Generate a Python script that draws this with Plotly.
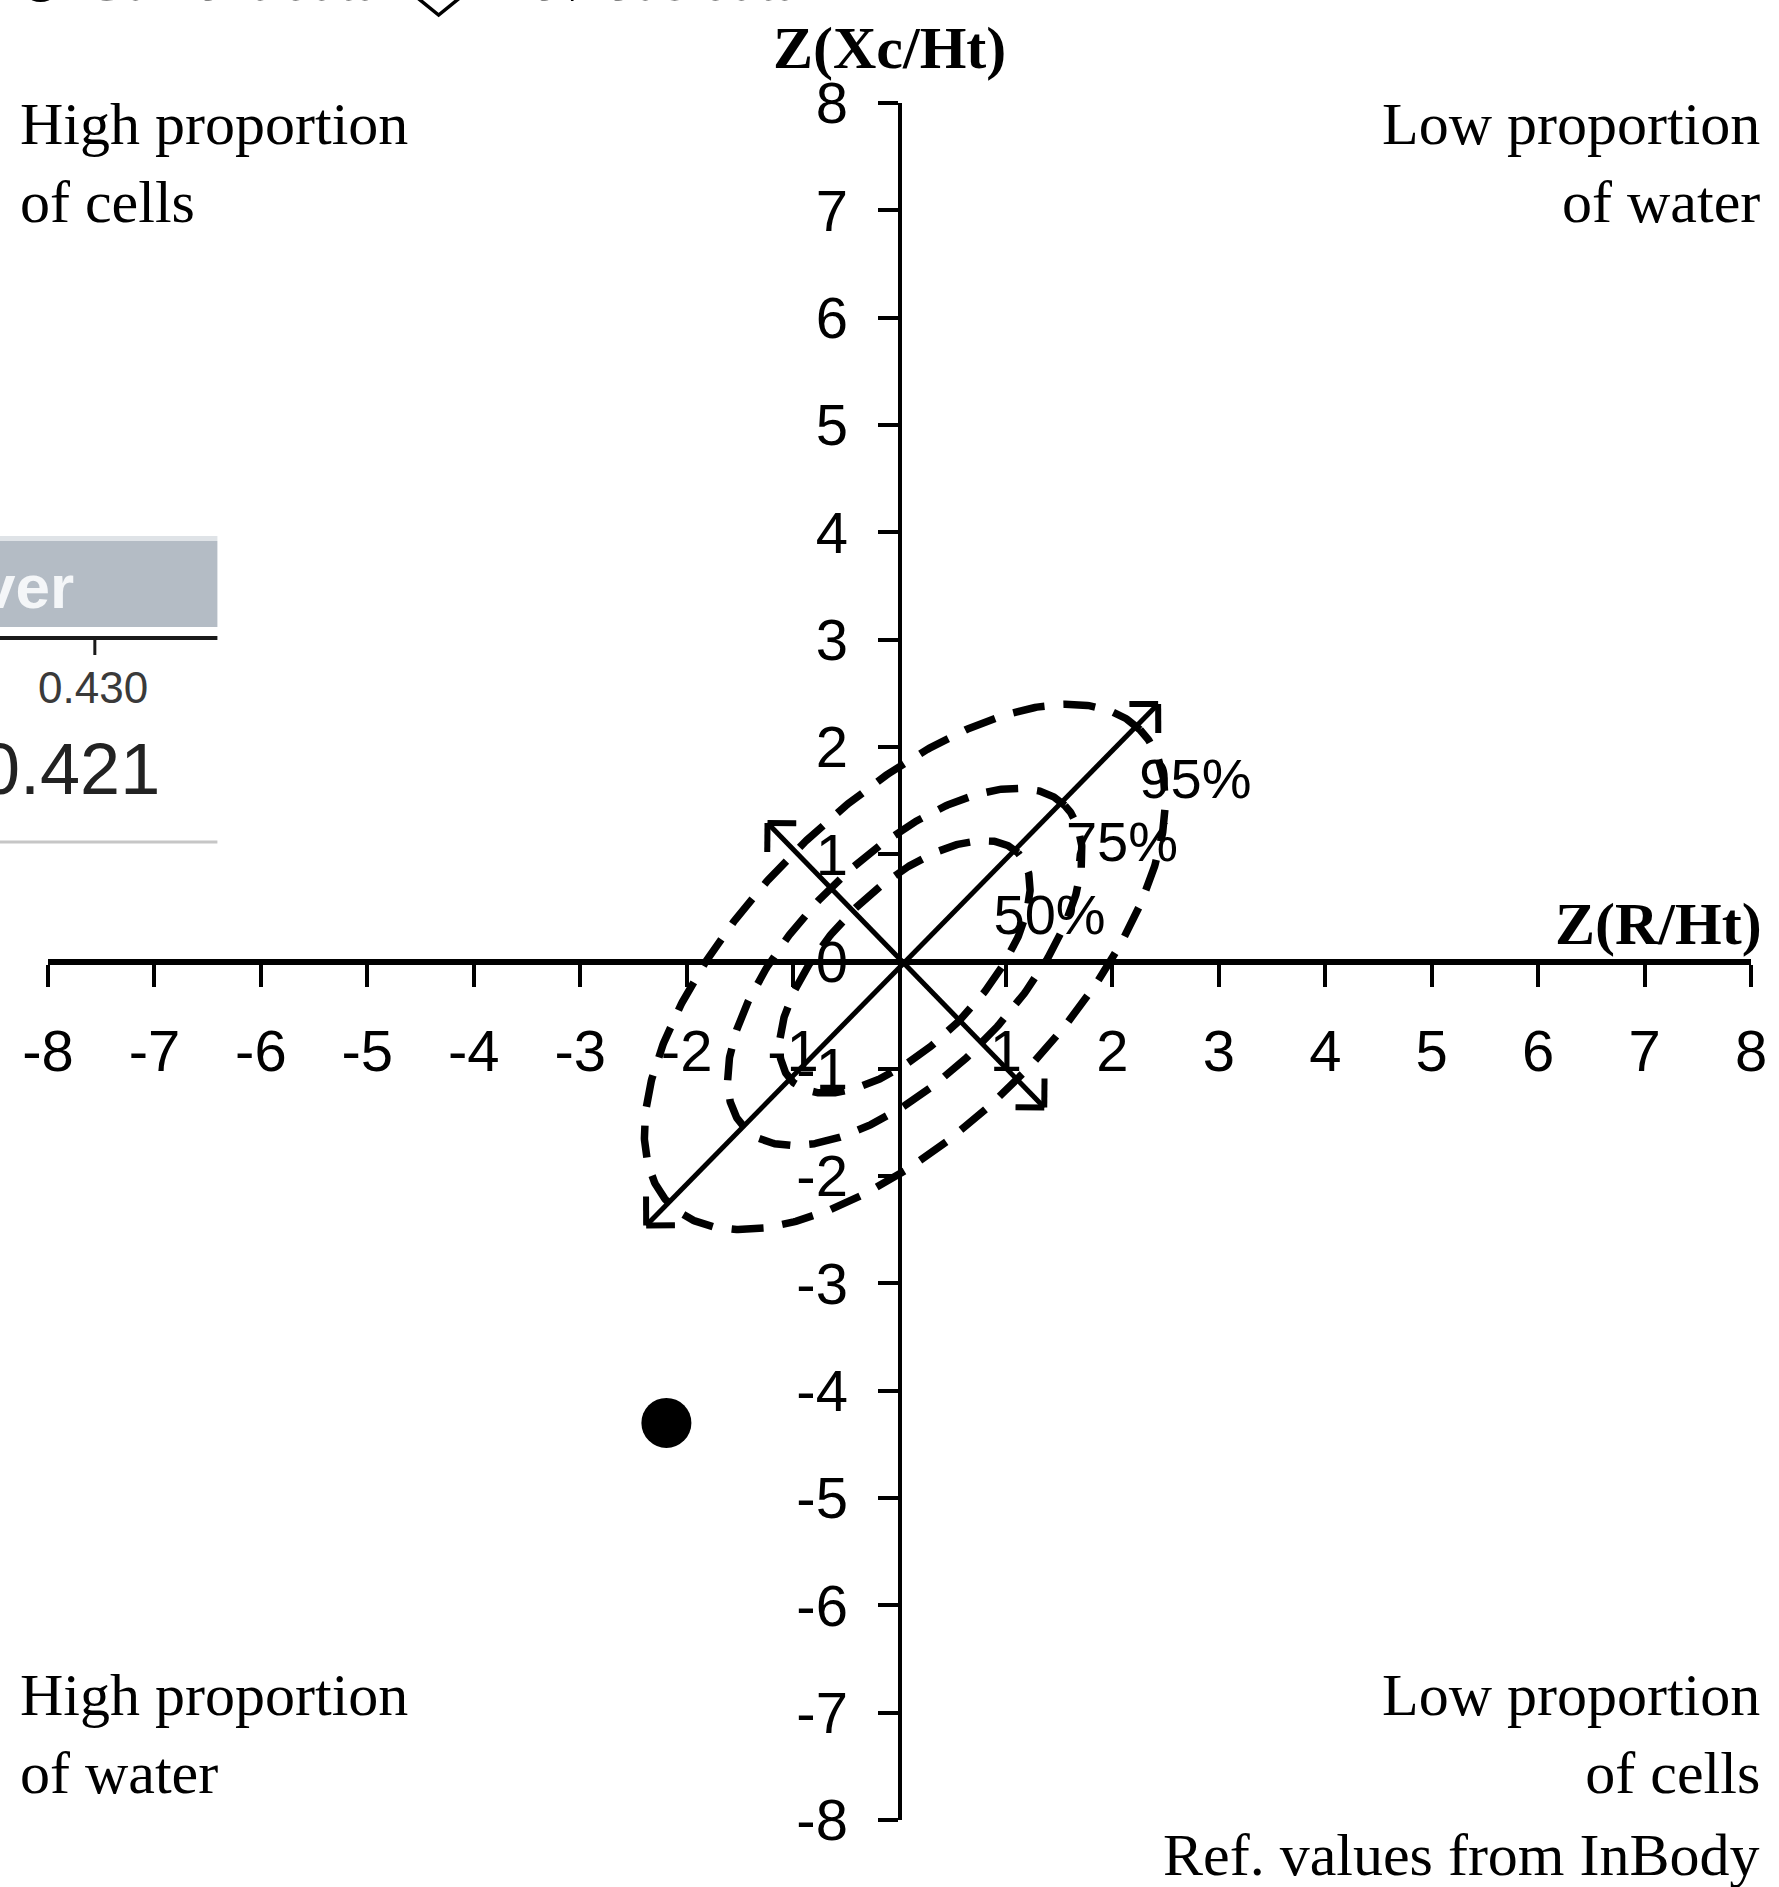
import numpy as np
import plotly.graph_objects as go

# ---- axis ticks -------------------------------------------------------
X_TICKS = list(range(-8, 9))
X_TICK_TEXT = [str(v) if v != 0 else "" for v in X_TICKS]
Y_TICKS = list(range(-8, 9))
Y_TICK_TEXT = [str(v) for v in Y_TICKS]

# ---- tolerance ellipses (bivariate Z-scores) -------------------------
LEVEL_LABELS = ["50%", "75%", "95%"]
CHI2_2DF = [1.386, 2.773, 5.991]          # chi-square quantiles, 2 d.f.
Z_CORRELATION = 0.63                      # corr(Z(R/Ht), Z(Xc/Ht))
ELLIPSE_CENTER = (0.05, -0.05)
LEVEL_LABEL_X = [1.41, 2.09, 2.78]
LEVEL_LABEL_Y = [0.39, 1.07, 1.65]

# ---- ellipse axes drawn as double-headed arrows -----------------------
MAJOR_AXIS_X = [-2.38, 2.43]
MAJOR_AXIS_Y = [-2.46, 2.40]
MINOR_AXIS_X = [-1.24, 1.36]
MINOR_AXIS_Y = [1.29, -1.36]

# ---- measurement -------------------------------------------------------
CURRENT_X = [-2.19]
CURRENT_Y = [-4.30]

# ---- quadrant captions -------------------------------------------------
TOP_LEFT = "High proportion<br>of cells"
TOP_RIGHT = "Low proportion<br>of water"
BOTTOM_LEFT = "High proportion<br>of water"
BOTTOM_RIGHT = "Low proportion<br>of cells"
FOOTNOTE = "Ref. values from InBody"

W, H = 1779, 1887
ML, MR, MT, MB = 48, 22, 103, 67
PW, PH = W - ML - MR, H - MT - MB

SERIF = "Liberation Serif, Times New Roman, serif"
SANS = "Liberation Sans, Arial, sans-serif"


def px(x):
    return (x - ML) / PW


def py(y):
    return (H - MB - y) / PH


fig = go.Figure()

# dashed tolerance ellipses
theta = np.linspace(0, 2 * np.pi, 720)
for c in CHI2_2DF:
    a = np.sqrt(c * (1 + Z_CORRELATION))
    b = np.sqrt(c * (1 - Z_CORRELATION))
    ex = ELLIPSE_CENTER[0] + (a * np.cos(theta) - b * np.sin(theta)) / np.sqrt(2)
    ey = ELLIPSE_CENTER[1] + (a * np.cos(theta) + b * np.sin(theta)) / np.sqrt(2)
    fig.add_trace(go.Scatter(x=ex, y=ey, mode="lines",
                             line=dict(color="black", width=7.5, dash="32px,19px"),
                             hoverinfo="skip", showlegend=False))


def arrow(xs, ys, head=0.27):
    fig.add_trace(go.Scatter(x=xs, y=ys, mode="lines",
                             line=dict(color="black", width=5),
                             hoverinfo="skip", showlegend=False))
    for i in (0, 1):
        tx, ty = xs[i], ys[i]
        ox, oy = xs[1 - i], ys[1 - i]
        d = np.array([tx - ox, ty - oy])
        d = d / np.linalg.norm(d)
        hx, hy = [], []
        for ang in (np.pi / 4, -np.pi / 4):
            r = np.array([d[0] * np.cos(ang) - d[1] * np.sin(ang),
                          d[0] * np.sin(ang) + d[1] * np.cos(ang)])
            hx += [tx - head * r[0], tx, None]
            hy += [ty - head * r[1], ty, None]
        fig.add_trace(go.Scatter(x=hx, y=hy, mode="lines",
                                 line=dict(color="black", width=6),
                                 hoverinfo="skip", showlegend=False))


arrow(MAJOR_AXIS_X, MAJOR_AXIS_Y)
arrow(MINOR_AXIS_X, MINOR_AXIS_Y)

fig.add_trace(go.Scatter(x=LEVEL_LABEL_X, y=LEVEL_LABEL_Y, mode="text",
                         text=LEVEL_LABELS, textposition="middle center",
                         textfont=dict(family=SANS, size=56, color="black"),
                         hoverinfo="skip", showlegend=False))

fig.add_trace(go.Scatter(x=CURRENT_X, y=CURRENT_Y, mode="markers",
                         marker=dict(symbol="circle", size=50, color="black"),
                         name="Current data", showlegend=False))

axis_common = dict(showgrid=False, zeroline=False, showline=True, linecolor="black",
                   ticks="outside", tickcolor="black", tickmode="array",
                   tickfont=dict(family=SANS, size=58, color="black"),
                   anchor="free", position=0.5, fixedrange=True)

fig.update_xaxes(range=[-8, 8], tickvals=X_TICKS, ticktext=X_TICK_TEXT,
                 linewidth=6, ticklen=22, tickwidth=3.5, ticklabelstandoff=15,
                 **axis_common)
fig.update_yaxes(range=[-8, 8], tickvals=Y_TICKS, ticktext=Y_TICK_TEXT,
                 linewidth=4, ticklen=20, tickwidth=3.5, ticklabelstandoff=18,
                 **axis_common)

ann = []


def text(t, x, y, xa, ya="top", size=60, family=SERIF, color="black", align="left"):
    ann.append(dict(text=t, x=px(x), y=py(y), xref="paper", yref="paper",
                    xanchor=xa, yanchor=ya, showarrow=False, align=align,
                    font=dict(family=family, size=size, color=color)))


text(TOP_LEFT, 18, 89, "left")
text(TOP_RIGHT, 1768, 89, "right", align="right")
text(BOTTOM_LEFT, 18, 1660, "left")
text(BOTTOM_RIGHT, 1768, 1660, "right", align="right")
text(FOOTNOTE, 1768, 1820, "right", align="right")
text("<b>Z(Xc/Ht)</b>", 892, 13, "center")
text("<b>Z(R/Ht)</b>", 1770, 889, "right")
text("Current data", 82, -55, "left")
text("Previous data", 477, -55, "left")

# inset panel fragment on the left
text("<b>ver</b>", 76, 586, "right", "middle", size=62, family=SANS, color="#f4f6f8")
text("0.430", 93, 687, "center", "middle", size=44, family=SANS, color="#3a3a3a")
text("0.421", 162, 769, "right", "middle", size=72, family=SANS, color="#222222")

shapes = [
    dict(type="rect", xref="paper", yref="paper", x0=px(-5), x1=px(218),
         y0=py(541), y1=py(536), fillcolor="#dfe3e7", line=dict(width=0), layer="below"),
    dict(type="rect", xref="paper", yref="paper", x0=px(-5), x1=px(218),
         y0=py(627), y1=py(541), fillcolor="#b4bcc5", line=dict(width=0), layer="below"),
    dict(type="line", xref="paper", yref="paper", x0=px(-5), x1=px(218),
         y0=py(638), y1=py(638), line=dict(color="#1a1a1a", width=4)),
    dict(type="line", xref="paper", yref="paper", x0=px(95), x1=px(95),
         y0=py(638), y1=py(655), line=dict(color="#1a1a1a", width=3)),
    dict(type="line", xref="paper", yref="paper", x0=px(-5), x1=px(218),
         y0=py(842), y1=py(842), line=dict(color="#c6c6c6", width=3)),
    # legend symbols
    dict(type="circle", xref="paper", yref="paper", x0=px(19.5), x1=px(61.5),
         y0=py(2), y1=py(-40), fillcolor="black", line=dict(width=0)),
    dict(type="path", xref="paper", yref="paper",
         path=(f"M {px(440)},{py(-35)} L {px(471)},{py(-10)} L {px(440)},{py(15)} "
               f"L {px(409)},{py(-10)} Z"),
         fillcolor="white", line=dict(color="black", width=3.5)),
]

fig.update_layout(width=W, height=H, margin=dict(l=ML, r=MR, t=MT, b=MB),
                  paper_bgcolor="white", plot_bgcolor="white",
                  annotations=ann, shapes=shapes, showlegend=False)

fig.write_html("out.html", config={"displayModeBar": False})
